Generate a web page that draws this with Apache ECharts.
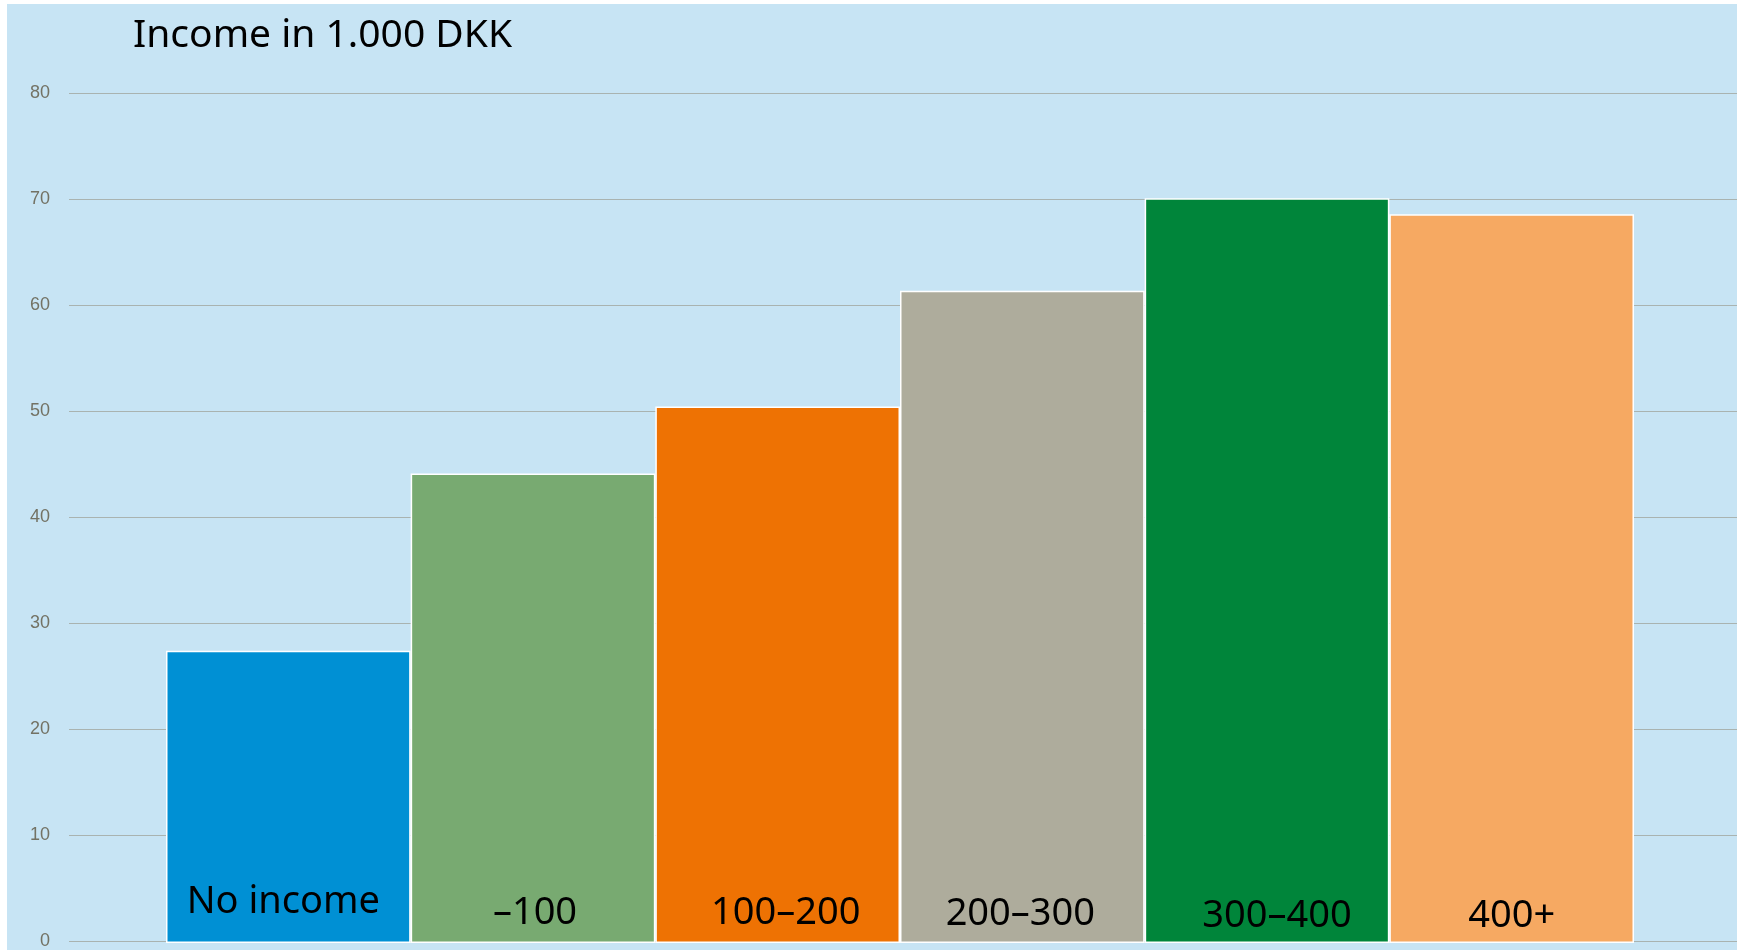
<!DOCTYPE html>
<html>
<head>
<meta charset="utf-8">
<script src="https://cdn.jsdelivr.net/npm/echarts@6/dist/echarts.min.js"></script>
<style>
  html, body { margin: 0; padding: 0; background: #ffffff; }
  #chart { position: absolute; left: 7px; top: 4px; width: 1730px; height: 946px; }
</style>
</head>
<body>
<div id="chart"></div>
<script>
// Income groups and their values (in 1.000 DKK)
const categories = ['No income', '–100', '100–200', '200–300', '300–400', '400+'];
const values = [27.5, 44.2, 50.5, 61.4, 70.1, 68.6];
const barColors = ['#0090d4', '#78aa71', '#ee7203', '#aeac9c', '#00853a', '#f6a962'];
const yTicks = { min: 0, max: 80, interval: 10 };
const titleText = 'Income in 1.000 DKK';

const labelFont = 'Noto Sans, sans-serif';
// per-bar placement of the category names inside the bars
const labelDistance = [22, 11, 11, 10, 8, 8];
const labelShiftX = [-5, 2, 8, -2, 10, 0];

const chart = echarts.init(document.getElementById('chart'));

chart.setOption({
  backgroundColor: '#c7e4f4',
  animation: false,
  title: {
    text: titleText,
    left: 121,
    top: 7,
    textStyle: { fontFamily: labelFont, fontWeight: 'normal', fontSize: 39, color: '#000000' }
  },
  grid: [
    // outer grid: value labels and full-width gridlines
    { left: 62, right: 0, top: 89, bottom: 7 },
    // inner grid: the bars
    { left: 159, right: 103, top: 89, bottom: 7 }
  ],
  xAxis: [
    { gridIndex: 0, type: 'value', show: false, min: 0, max: 1 },
    { gridIndex: 1, type: 'category', data: categories, show: false }
  ],
  yAxis: [
    {
      gridIndex: 0, type: 'value',
      min: yTicks.min, max: yTicks.max, interval: yTicks.interval,
      axisLine: { show: false }, axisTick: { show: false },
      axisLabel: { margin: 19, color: '#737264', fontSize: 18, fontFamily: 'Liberation Sans Narrow, Liberation Sans, sans-serif' },
      splitLine: { lineStyle: { color: '#a9b3b0', width: 1 } }
    },
    {
      gridIndex: 1, type: 'value',
      min: yTicks.min, max: yTicks.max, interval: yTicks.interval,
      show: false, splitLine: { show: false }
    }
  ],
  series: [{
    type: 'bar',
    xAxisIndex: 1,
    yAxisIndex: 1,
    barCategoryGap: 0,
    data: values.map((v, i) => ({
      value: v,
      itemStyle: { color: barColors[i] },
      label: { distance: labelDistance[i], offset: [labelShiftX[i], 0] }
    })),
    itemStyle: { borderColor: '#ffffff', borderWidth: 1.5 },
    label: {
      show: true,
      position: 'insideBottom',
      formatter: '{b}',
      fontFamily: labelFont,
      fontSize: 38,
      color: '#000000'
    }
  }]
});
</script>
</body>
</html>
